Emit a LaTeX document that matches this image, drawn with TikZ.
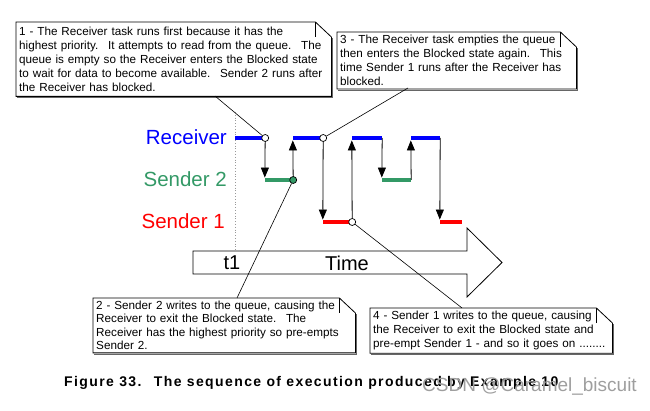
\documentclass[tikz,border=0pt]{standalone}
\usepackage{fontspec}
\setmainfont{Liberation Sans}
\newfontfamily\capfont[LetterSpace=10]{Liberation Sans}
\usetikzlibrary{arrows.meta,calc}
\definecolor{rcv}{RGB}{0,0,255}
\definecolor{sndtwo}{RGB}{51,153,102}
\definecolor{sndone}{RGB}{255,0,0}
\newcommand\noteframe[1]{%
  \draw[black!60,line width=1.1] ($(#1.south west)+(1.3,1.3)$) -- ($(#1.south east)+(1.3,1.3)$) -- ($(#1.north east)+(1.3,16)$);
  \draw[line width=0.8] (#1.south west) -- (#1.north west) -- ($(#1.north east)+(-16,0)$) -- ($(#1.north east)+(0,15)$) -- (#1.south east) -- cycle;
  \draw[line width=0.8] ($(#1.north east)+(-16,0)$) -- ($(#1.north east)+(-16,15)$);}
\begin{document}
\begin{tikzpicture}[x=1pt,y=-1pt,
  notenode/.style={anchor=north west, align=left, inner sep=3pt, font=\fontsize{11.7}{14}\selectfont},
  lab/.style={anchor=east, inner sep=0pt, font=\fontsize{20.5}{24}\selectfont},
  bar/.style={fill, draw=none, inner sep=0pt, minimum height=4.5pt, rectangle},
  arr/.style={line width=0.8, -{Triangle[length=10pt,width=8pt]}},
  lead/.style={line width=0.6},
  dot/.style={circle, draw, line width=0.7, fill=white, inner sep=0pt, minimum size=7pt}]
\useasboundingbox (0,0) rectangle (650,411);
% time arrow
\draw[line width=0.8, fill=white] (193,251) -- (467,251) -- (467,228) -- (502,262.5) -- (467,297) -- (467,274) -- (193,274) -- cycle;
\node[inner sep=0pt, font=\fontsize{20}{24}\selectfont] (t1) at (232,263) {t1};
\node[inner sep=0pt, font=\fontsize{20}{24}\selectfont] (time) at (347,263) {Time};
% dotted marker
\coordinate (dtop) at (235,112);
\coordinate (dbot) at (235,250);
\draw[black!40, dotted, line width=0.8] (dtop) -- (dbot);
% labels
\node[lab, text=rcv] (lr) at (227,137) {Receiver};
\node[lab, text=sndtwo] (ls2) at (227,179) {Sender 2};
\node[lab, text=sndone] (ls1) at (225,221) {Sender 1};
% bars
\node[bar, rcv, minimum width=30pt] (R1) at (250,138) {};
\node[bar, sndtwo, minimum width=28pt] (S2a) at (279,180) {};
\node[bar, rcv, minimum width=30pt] (R2) at (308,138) {};
\node[bar, sndone, minimum width=29pt] (S1a) at (337.5,222) {};
\node[bar, rcv, minimum width=30pt] (R3) at (367,138) {};
\node[bar, sndtwo, minimum width=29pt] (S2b) at (396.5,180) {};
\node[bar, rcv, minimum width=29pt] (R4) at (425.5,138) {};
\node[bar, sndone, minimum width=22pt] (S1b) at (451,222) {};
% arrows
\draw[arr] (R1.east) -- (S2a.north west);
\draw[arr] (S2a.east) -- (R2.south west);
\draw[arr] (R2.east) -- (S1a.north west);
\draw[arr] (S1a.east) -- (R3.south west);
\draw[arr] (R3.east) -- (S2b.north west);
\draw[arr] (S2b.east) -- (R4.south west);
\draw[arr] (R4.east) -- (S1b.north west);
% notes
\node[notenode, minimum width=315pt, minimum height=74pt, text width=309pt] (b1) at (16,22) {\mbox{1 - The Receiver task runs first because it has the}\\\mbox{highest priority.~ It attempts to read from the queue.~ The}\\\mbox{queue is empty so the Receiver enters the Blocked state}\\\mbox{to wait for data to become available.~ Sender 2 runs after}\\\mbox{the Receiver has blocked.}};
\noteframe{b1}
\node[notenode, minimum width=239pt, minimum height=56pt, text width=233pt] (b3) at (337,32) {\mbox{3 - The Receiver task empties the queue}\\\mbox{then enters the Blocked state again.~ This}\\\mbox{time Sender 1 runs after the Receiver has}\\\mbox{blocked.}};
\noteframe{b3}
\node[notenode, minimum width=262pt, minimum height=50pt, text width=256pt, font=\fontsize{11.7}{13.3}\selectfont] (b2) at (93,298) {\mbox{2 - Sender 2 writes to the queue, causing the}\\\mbox{Receiver to exit the Blocked state.~ The}\\\mbox{Receiver has the highest priority so pre-empts}\\\mbox{Sender 2.}};
\noteframe{b2}
\node[notenode, minimum width=242pt, minimum height=42pt, text width=236pt] (b4) at (370,308) {\mbox{4 - Sender 1 writes to the queue, causing}\\\mbox{the Receiver to exit the Blocked state and}\\\mbox{pre-empt Sender 1 - and so it goes on ........}};
\noteframe{b4}
% leaders
\coordinate (l1) at (215,96);
\coordinate (l3) at (408,88);
\coordinate (l2) at (237,298);
\coordinate (l4) at (462,308);
\node[dot] (c1) at (R1.east) {};
\node[dot, fill=sndtwo] (c2) at (S2a.east) {};
\node[dot] (c3) at (R2.east) {};
\node[dot] (c4) at (S1a.east) {};
\draw[lead] (c1) -- (l1);
\draw[lead] (c2) -- (l2);
\draw[lead] (c3) -- (l3);
\draw[lead] (c4) -- (l4);
% caption
\node[anchor=base west, inner sep=0pt, font=\capfont\bfseries\fontsize{14}{16}\selectfont] (cap) at (64,386) {Figure 33.~ The sequence of execution produced by Example 10};
\node[anchor=base west, inner sep=0pt, text=black!38, font=\fontsize{19}{22}\selectfont] (wm) at (422,391) {CSDN @Caramel\_biscuit};
\end{tikzpicture}
\end{document}
